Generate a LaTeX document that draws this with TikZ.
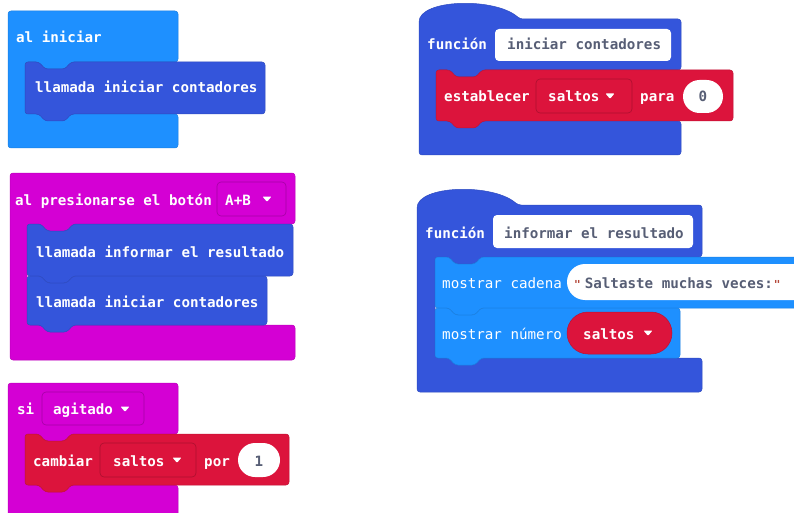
\documentclass[tikz,border=0pt]{standalone}
\usepackage{fontspec}
\newfontfamily\blkfont{DejaVu Sans Mono}
\definecolor{cLight}{HTML}{1E90FF}
\definecolor{cFunc}{HTML}{3455DB}
\definecolor{cMag}{HTML}{D400D4}
\definecolor{cRed}{HTML}{DC143C}
\definecolor{cGray}{HTML}{575E75}
\definecolor{cQuote}{HTML}{B5483A}
% statement block with notch on top and tab at bottom
\newcommand\stmtblk[5]{\filldraw[blk=#5] (#1,{(#2+#4)/2}) -- (#1,#2) -- ({#1+14},#2) -- ({#1+20},{#2+7}) -- ({#1+40},{#2+7}) -- ({#1+46},#2) -- (#3,#2) -- (#3,#4) -- ({#1+46},#4) -- ({#1+40},{#4+7}) -- ({#1+20},{#4+7}) -- ({#1+14},#4) -- (#1,#4) -- cycle;}
% C-shaped container: x0,y0,x1,y1(header bottom),xa(arm),y2(bottom arm top),y3,colour
\newcommand\cblk[8]{\filldraw[blk=#8] (#1,{(#2+#7)/2}) -- (#1,#2) -- (#3,#2) -- (#3,#4) -- ({#5+46},#4) -- ({#5+40},{#4+7}) -- ({#5+20},{#4+7}) -- ({#5+14},#4) -- (#5,#4) -- (#5,#6) -- (#3,#6) -- (#3,#7) -- (#1,#7) -- cycle;}
% function container with hat
\newcommand\fblk[8]{\filldraw[blk=#8] (#1,{(#2+#7)/2}) -- (#1,{#2+6}) .. controls (#1,{#2-20}) and ({#1+76},{#2-22}) .. ({#1+101},#2) -- (#3,#2) -- (#3,#4) -- ({#5+46},#4) -- ({#5+40},{#4+7}) -- ({#5+20},{#4+7}) -- ({#5+14},#4) -- (#5,#4) -- (#5,#6) -- (#3,#6) -- (#3,#7) -- (#1,#7) -- cycle;}
\newcommand\ddtri[3]{\fill[#3, rounded corners=0.8] ({#1-4.5},{#2-2.5}) -- ({#1+4.5},{#2-2.5}) -- (#1,{#2+2.8}) -- cycle;}
\begin{document}
\begin{tikzpicture}[x=1pt,y=-1pt,
  blk/.style={fill=#1, draw=#1!88!black, line width=0.5pt, rounded corners=3},
  ddbox/.style={fill=#1, draw=#1!78!black, line width=0.6pt, rounded corners=4},
  oval/.style={fill=white},
  lbl/.style={anchor=base west, inner sep=0, text=white, font=\blkfont\bfseries\fontsize{14.2}{16}\selectfont},
  lbll/.style={lbl, font=\blkfont\fontsize{14.2}{16}\selectfont},
  glbl/.style={lbl, text=cGray}]
\clip (0,0) rectangle (794,513);
\fill[white] (0,0) rectangle (794,513);

% ---- al iniciar ----
\cblk{8}{11}{178}{62}{25}{114}{148}{cLight}
\node[lbl] (t1) at (16,43) {al iniciar};
\stmtblk{25}{62}{265}{114}{cFunc}
\node[lbl] (t2) at (35,93) {llamada iniciar contadores};

% ---- al presionarse el boton ----
\cblk{10}{173}{295}{224}{27}{325}{360}{cMag}
\node[lbl] (t3) at (15,205) {al presionarse el botón};
\filldraw[ddbox=cMag] (217,182) rectangle (286,216);
\node[lbl] (t4) at (225,205) {A+B};
\ddtri{267}{199}{white}
\stmtblk{27}{224}{293}{276}{cFunc}
\node[lbl] (t5) at (36,257) {llamada informar el resultado};
\stmtblk{27}{276}{267}{325}{cFunc}
\node[lbl] (t6) at (36,307) {llamada iniciar contadores};

% ---- si agitado ----
\cblk{8}{383}{178}{434}{25}{485}{540}{cMag}
\node[lbl] (t7) at (17,414) {si};
\filldraw[ddbox=cMag] (42,392) rectangle (144,425);
\node[lbl] (t8) at (53,414) {agitado};
\ddtri{125}{409}{white}
\stmtblk{25}{434}{289}{485}{cRed}
\node[lbl] (t9) at (33,466) {cambiar};
\filldraw[ddbox=cRed] (100,443) rectangle (196,477);
\node[lbl] (t10) at (113,466) {saltos};
\ddtri{177}{460}{white}
\node[lbl] (t11) at (204,466) {por};
\fill[oval, rounded corners=17] (238,443) rectangle (280,477);
\node[glbl, anchor=base] (t12) at (259,466) {1};

% ---- funcion iniciar contadores ----
\fblk{419}{19}{681}{70}{436}{121}{155}{cFunc}
\node[lbl] (t13) at (427,50) {función};
\fill[white, rounded corners=4] (495,29) rectangle (671,61);
\node[glbl] (t14) at (507,50) {iniciar contadores};
\stmtblk{436}{70}{733}{121}{cRed}
\node[lbl] (t15) at (444,102) {establecer};
\filldraw[ddbox=cRed] (536,79) rectangle (632,113);
\node[lbl] (t16) at (548,102) {saltos};
\ddtri{610}{96}{white}
\node[lbl] (t17) at (640,102) {para};
\fill[oval, rounded corners=16.5] (683,80) rectangle (723,113);
\node[glbl, anchor=base] (t18) at (703,102) {0};

% ---- funcion informar el resultado ----
\fblk{417}{205}{702}{257}{435}{358}{392}{cFunc}
\node[lbl] (t19) at (425,238) {función};
\fill[white, rounded corners=4] (493,215) rectangle (693,248);
\node[glbl] (t20) at (504,238) {informar el resultado};
\stmtblk{435}{257}{830}{308}{cLight}
\node[lbll] (t21) at (442,288) {mostrar cadena};
\fill[oval, rounded corners=18] (567,264) rectangle (830,300);
\node[glbl] (t22) at (574,288) {\textcolor{cQuote}{\fontsize{11}{12}\selectfont"}\kern4pt Saltaste muchas veces:\kern1pt\textcolor{cQuote}{\fontsize{11}{12}\selectfont"}};
\stmtblk{435}{308}{680}{358}{cLight}
\node[lbll] (t23) at (442,339) {mostrar número};
\filldraw[fill=cRed, draw=cRed!85!black, line width=0.5pt, rounded corners=21] (567,312) rectangle (672,354);
\node[lbl] (t24) at (583,339) {saltos};
\ddtri{648}{333}{white}
\end{tikzpicture}
\end{document}
